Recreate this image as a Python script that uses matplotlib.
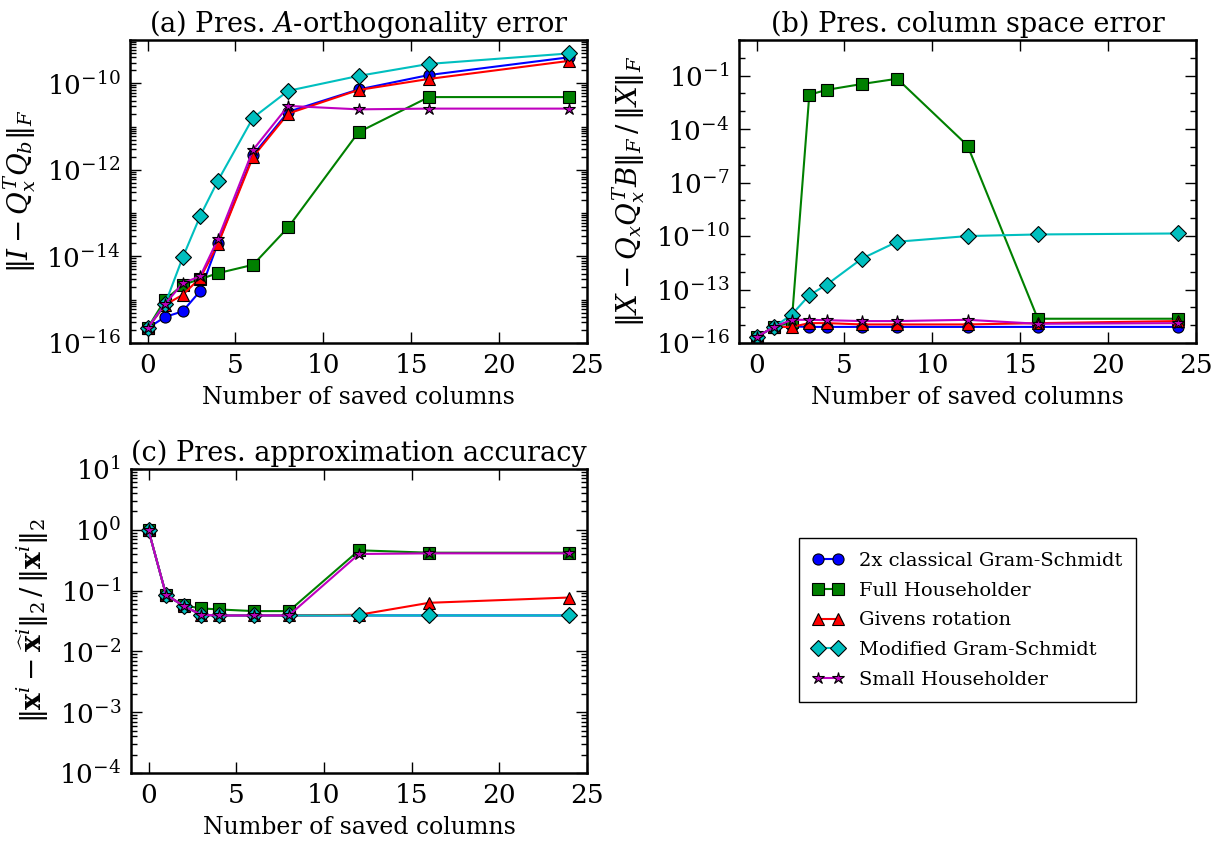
import numpy as np
import matplotlib
matplotlib.use('Agg')
from matplotlib import pyplot as plt
from matplotlib import ticker

plt.rcParams['font.family'] = ['DejaVu Serif']
plt.rcParams['mathtext.fontset'] = 'dejavuserif'

# Number of saved columns
cols = [0, 1, 2, 3, 4, 6, 8, 12, 16, 24]

methods = ['2x classical Gram-Schmidt', 'Full Householder', 'Givens rotation',
           'Modified Gram-Schmidt', 'Small Householder']
colors = ['b', 'g', 'r', 'c', 'm']
markers = ['o', 's', '^', 'D', '*']

# (a) A-orthogonality error
orth_cgs2 = [2.2e-16, 4e-16, 5.4e-16, 1.6e-15, 2e-14, 2.2e-12, 2.2e-11, 7.2e-11, 1.55e-10, 4e-10]
orth_fullhh = [2.2e-16, 1e-15, 2.2e-15, 3e-15, 4.1e-15, 6.4e-15, 4.7e-14, 7.4e-12, 4.8e-11, 4.8e-11]
orth_givens = [2.2e-16, 7.6e-16, 1.3e-15, 3.2e-15, 1.9e-14, 2e-12, 2e-11, 7e-11, 1.26e-10, 3.3e-10]
orth_mgs = [2.2e-16, 8e-16, 9.5e-15, 8.7e-14, 5.6e-13, 1.6e-11, 6.7e-11, 1.48e-10, 2.8e-10, 4.9e-10]
orth_smallhh = [2.2e-16, 8e-16, 2.4e-15, 3.5e-15, 2.5e-14, 2.9e-12, 3e-11, 2.5e-11, 2.6e-11, 2.6e-11]

# (b) column space error
cs_cgs2 = [2.2e-16, 8e-16, 8.5e-16, 8e-16, 8e-16, 8e-16, 8e-16, 8e-16, 8e-16, 8e-16]
cs_fullhh = [2.2e-16, 8e-16, 1.5e-15, 8.5e-3, 1.6e-2, 3.4e-2, 6.7e-2, 1.2e-5, 2.3e-15, 2.3e-15]
cs_givens = [2.2e-16, 8e-16, 8e-16, 1.3e-15, 1.3e-15, 1.1e-15, 1.1e-15, 1.1e-15, 1.3e-15, 1.7e-15]
cs_mgs = [2.2e-16, 8e-16, 3.9e-15, 4.8e-14, 1.9e-13, 5.5e-12, 4.8e-11, 1e-10, 1.23e-10, 1.4e-10]
cs_smallhh = [2.2e-16, 8e-16, 2e-15, 2e-15, 1.9e-15, 1.7e-15, 1.7e-15, 2e-15, 1.2e-15, 1.3e-15]

# (c) approximation accuracy
acc_cgs2 = [0.98, 0.085, 0.056, 0.040, 0.039, 0.039, 0.039, 0.039, 0.039, 0.039]
acc_fullhh = [0.98, 0.085, 0.057, 0.051, 0.049, 0.046, 0.046, 0.46, 0.42, 0.42]
acc_givens = [0.98, 0.085, 0.056, 0.040, 0.039, 0.039, 0.039, 0.040, 0.063, 0.077]
acc_mgs = [0.98, 0.085, 0.056, 0.040, 0.039, 0.039, 0.039, 0.039, 0.039, 0.039]
acc_smallhh = [0.98, 0.085, 0.056, 0.040, 0.039, 0.039, 0.039, 0.40, 0.41, 0.41]

panels = [
    ('(a) Pres. $A$-orthogonality error', r'$\|I - Q_x^TQ_b\|_F$',
     [orth_cgs2, orth_fullhh, orth_givens, orth_mgs, orth_smallhh], (1e-16, 1e-9), 2),
    ('(b) Pres. column space error', r'$\|X - Q_xQ_x^TB\|_F\,/\,\|X\|_F$',
     [cs_cgs2, cs_fullhh, cs_givens, cs_mgs, cs_smallhh], (1e-16, 1e1), 3),
    ('(c) Pres. approximation accuracy',
     r'$\|\mathbf{x}^i - \widehat{\mathbf{x}}^i\|_2\,/\,\|\mathbf{x}^i\|_2$',
     [acc_cgs2, acc_fullhh, acc_givens, acc_mgs, acc_smallhh], (1e-4, 1e1), 1),
]

# axes boxes in pixels (left, top, right, bottom)
W, H = 1211, 844
boxes = [(130, 40, 587, 343), (739, 40, 1196, 343), (131, 469, 587, 773)]

fig = plt.figure(figsize=(W / 100, H / 100), dpi=100)
fig.patch.set_facecolor('white')

handles = []
for (title, ylab, series, ylim, step), (x0, y0, x1, y1) in zip(panels, boxes):
    ax = fig.add_axes([x0 / W, 1 - y1 / H, (x1 - x0) / W, (y1 - y0) / H])
    handles = []
    for vals, c, mk, name in zip(series, colors, markers, methods):
        h, = ax.plot(cols, vals, color=c, marker=mk, markersize=8 if mk != '*' else 9,
                     markeredgecolor='k', markeredgewidth=0.8, linewidth=1.5, label=name)
        handles.append(h)
    ax.set_yscale('log')
    ax.set_ylim(*ylim)
    ax.set_xlim(-1, 25)
    lo, hi = int(np.log10(ylim[0])), int(np.log10(ylim[1]))
    ax.yaxis.set_major_locator(ticker.FixedLocator([10.0 ** k for k in range(lo, hi + 1, step)]))
    ax.yaxis.set_major_formatter(ticker.FuncFormatter(lambda v, p: r'$10^{%d}$' % round(np.log10(v))))
    if step == 3:
        ax.yaxis.set_minor_locator(ticker.LogLocator(base=10, subs=(1.0,), numticks=100))
    else:
        ax.yaxis.set_minor_locator(ticker.LogLocator(base=10, subs=np.arange(1, 10), numticks=100))
    ax.yaxis.set_minor_formatter(ticker.NullFormatter())
    ax.set_xticks([0, 5, 10, 15, 20, 25])
    ax.tick_params(which='both', direction='in', top=True, right=True, labelsize=19, pad=7)
    ax.tick_params(which='major', length=8, width=1)
    ax.tick_params(which='minor', length=4, width=1)
    for s in ax.spines.values():
        s.set_linewidth(1.8)
    ax.set_title(title, fontsize=19.5)
    ax.set_xlabel('Number of saved columns', fontsize=17, labelpad=6)
    ax.set_ylabel(ylab, fontsize=20, labelpad=6)

fig.legend(handles, methods, loc='center', bbox_to_anchor=(0.799, 0.265), fontsize=14,
           numpoints=2, handlelength=1.6, fancybox=False, edgecolor='k',
           framealpha=1, borderpad=0.7, labelspacing=0.6)

fig.savefig('out.png', dpi=100, facecolor='white')
